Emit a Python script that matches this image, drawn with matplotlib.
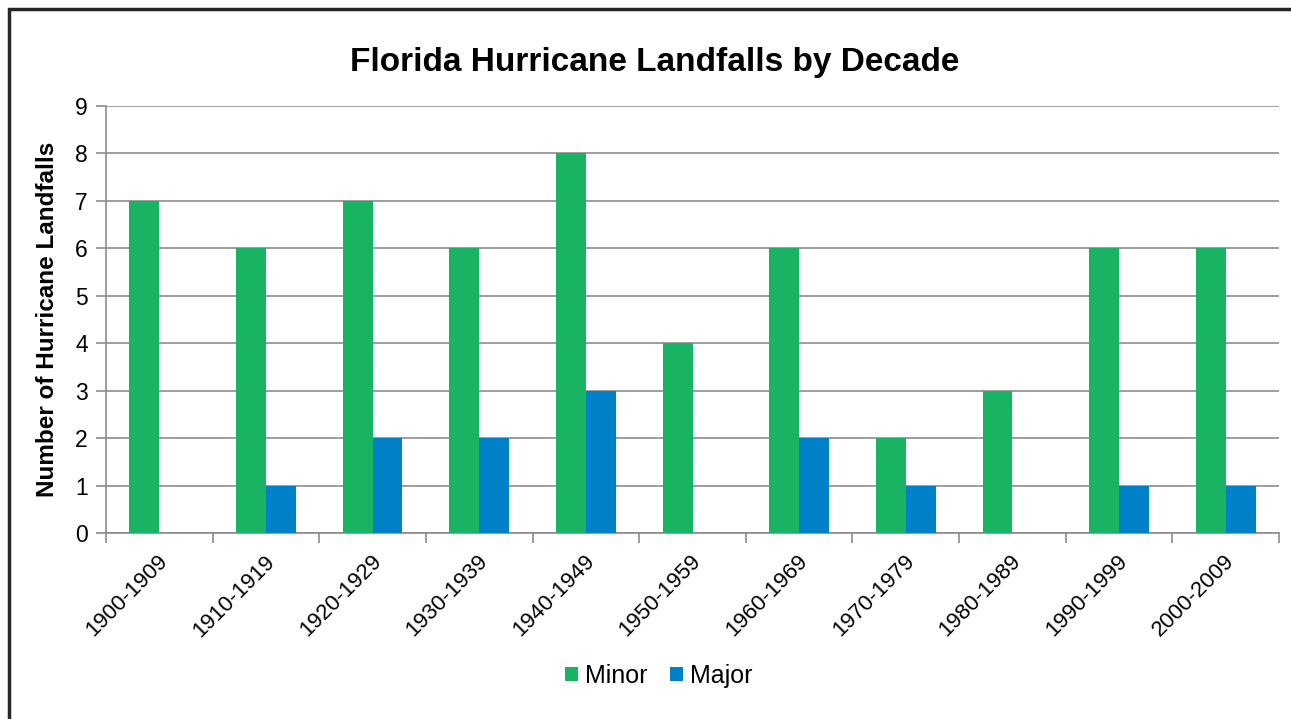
import numpy as np
import matplotlib.pyplot as plt
from matplotlib.patches import Rectangle
import matplotlib.transforms as mtransforms

plt.rcParams['font.family'] = ['Liberation Sans', 'DejaVu Sans']

# Data
decades = ["1900-1909", "1910-1919", "1920-1929", "1930-1939", "1940-1949", "1950-1959",
           "1960-1969", "1970-1979", "1980-1989", "1990-1999", "2000-2009"]
minor = [7, 6, 7, 6, 8, 4, 6, 2, 3, 6, 6]
major = [0, 1, 2, 2, 3, 0, 2, 1, 0, 1, 1]

green = "#19B364"
blue = "#0080C6"
grid_gray = "#8C8C8C"

fig = plt.figure(figsize=(12.91, 7.19), dpi=100)
ax = fig.add_axes([106 / 1291, 1 - 533 / 719, (1279 - 106) / 1291, (533 - 106) / 719])

# outer border (runs off the right and bottom edges like the original)
fig.patches.append(Rectangle((9 / 1291, -0.05), 1.1, 1 - 9 / 719 + 0.05, transform=fig.transFigure,
                             fill=False, edgecolor="#262626", linewidth=2.5))

x = np.arange(len(decades))
w = 0.28
ax.bar(x - w / 2, minor, width=w, color=green, label="Minor", zorder=3)
ax.bar(x + w / 2, major, width=w, color=blue, label="Major", zorder=3)

ax.set_xlim(-0.5, len(decades) - 0.5)
ax.set_ylim(0, 9)
ax.set_yticks(range(0, 10))
ax.yaxis.grid(True, color=grid_gray, linewidth=1.2, zorder=0)
ax.tick_params(axis='y', labelsize=16.5, length=7, color=grid_gray, width=1.2, pad=6)

# category ticks between groups, labels at group centers
ax.set_xticks(np.arange(-0.5, len(decades)), minor=False)
ax.set_xticklabels([])
ax.set_xticks(x, minor=True)
ax.set_xticklabels(decades, minor=True, rotation=45, ha='right', rotation_mode='anchor', fontsize=16)
ax.tick_params(axis='x', which='major', length=7, color=grid_gray, width=1.2)
ax.tick_params(axis='x', which='minor', length=0, pad=13)
offset = mtransforms.ScaledTranslation(-2 / 100, 0, fig.dpi_scale_trans)
for lbl in ax.get_xticklabels(minor=True):
    lbl.set_transform(lbl.get_transform() + offset)

for side in ['top', 'right']:
    ax.spines[side].set_visible(False)
for side in ['left', 'bottom']:
    ax.spines[side].set_color(grid_gray)
    ax.spines[side].set_linewidth(1.2)

ax.set_ylabel("Number of Hurricane Landfalls", fontsize=17.5, fontweight='bold', labelpad=12)
fig.text(655 / 1291, 1 - 63 / 719, "Florida Hurricane Landfalls by Decade", fontsize=24,
         fontweight='bold', ha='center', va='center')

fig.legend(loc='center', bbox_to_anchor=(659 / 1291, 1 - 676 / 719), ncol=2, frameon=False,
           fontsize=18, handlelength=0.5, handleheight=0.5, handletextpad=0.3, columnspacing=0.9)

fig.savefig("out.png", dpi=100)
